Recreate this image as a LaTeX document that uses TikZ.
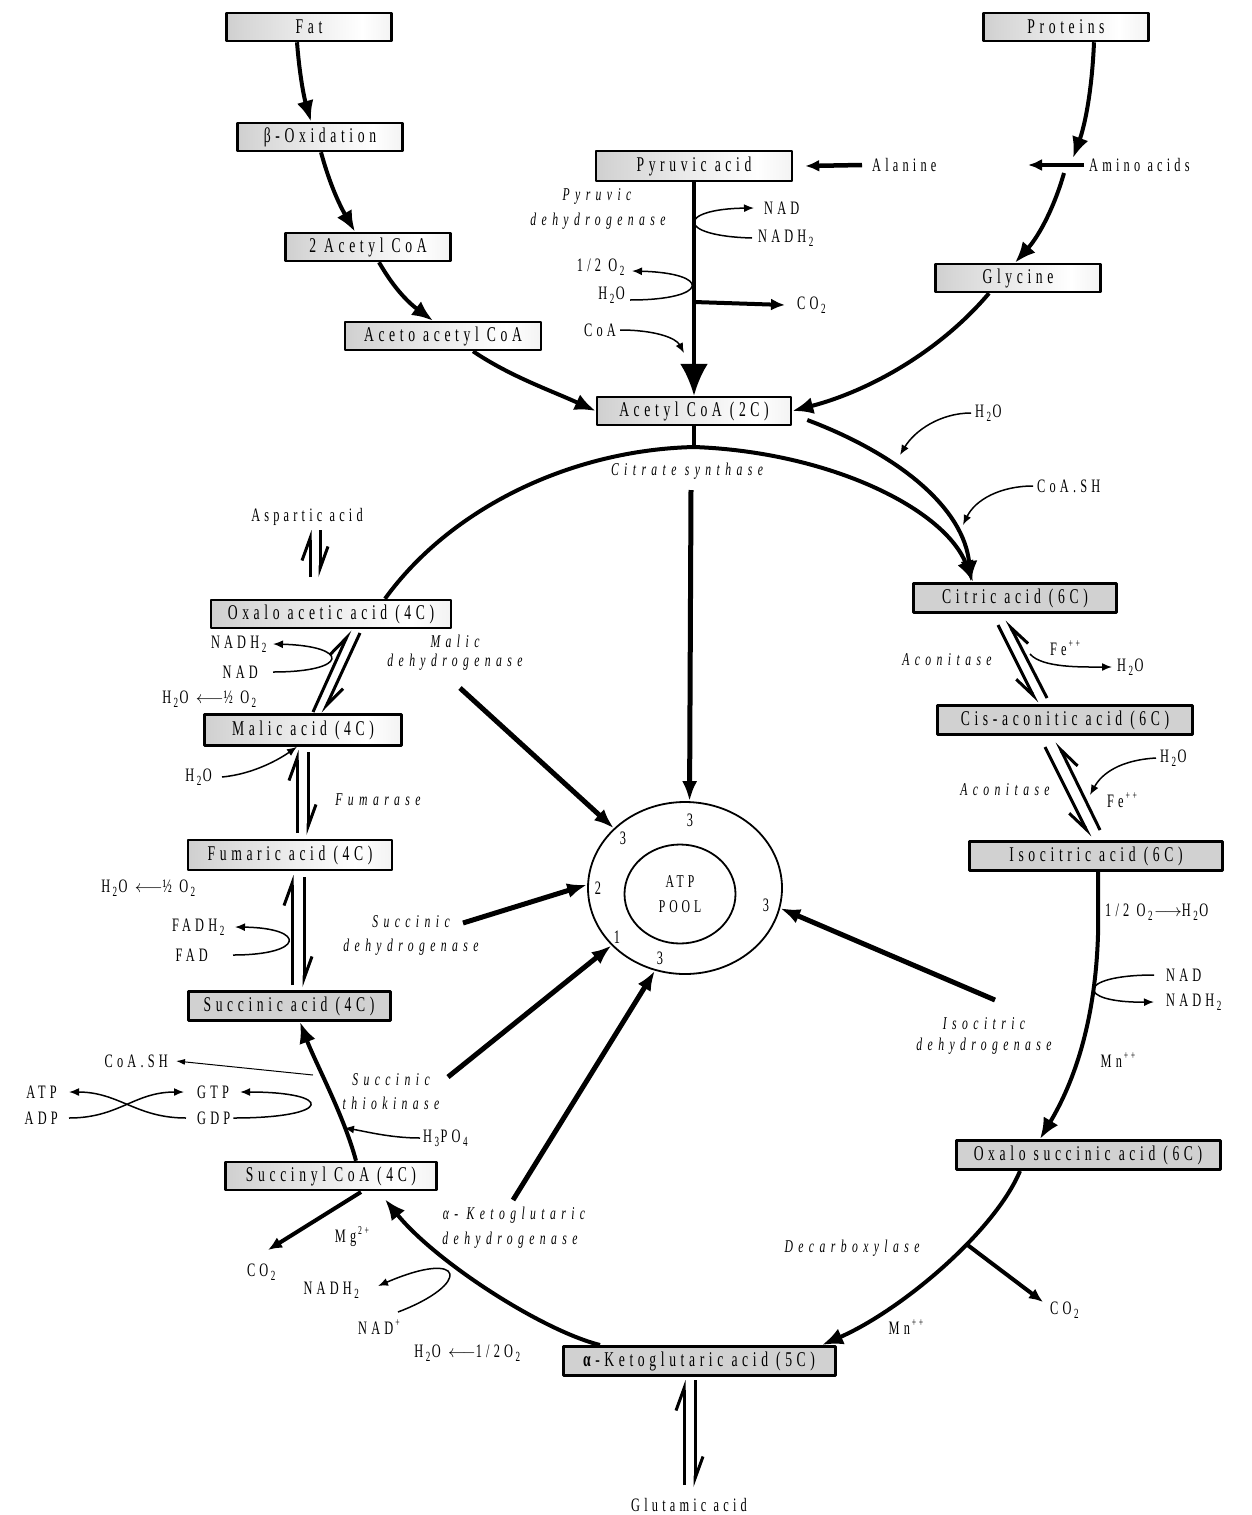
\documentclass[tikz,border=0pt]{standalone}
\usepackage{fontspec}
\setmainfont{Liberation Serif}[FakeStretch=0.65,LetterSpace=22]
\newfontfamily\itf{Liberation Serif}[FakeStretch=0.65,LetterSpace=30]
\usetikzlibrary{arrows.meta,shapes.geometric,calc}
\newcommand\sbs[1]{\kern2.5pt\raisebox{-4pt}{\fontsize{14}{14}\selectfont #1}\kern1.5pt}
\newcommand\sps[1]{\kern2pt\raisebox{8pt}{\fontsize{12}{12}\selectfont #1}}
\pgfdeclarehorizontalshading{boxshade}{100bp}{color(0bp)=(black!32); color(30bp)=(black!16); color(66bp)=(white); color(100bp)=(black!18)}
\begin{document}
\begin{tikzpicture}[x=1pt,y=-1pt,line join=round,
  gbox/.style={draw,line width=2.5pt,shading=boxshade,minimum height=28pt,inner sep=0pt,font=\fontsize{21}{23}\selectfont},
  fbox/.style={draw,line width=3pt,fill=black!18,minimum height=29pt,inner sep=0pt,font=\fontsize{21}{23}\selectfont},
  lab/.style={inner sep=0pt,font=\fontsize{19}{21}\selectfont},
  it/.style={inner sep=0pt,font=\itf\itshape\fontsize{18}{20}\selectfont},
  thk/.style={line width=4pt},
  big/.style={-{Latex[length=21pt,width=17pt]}},
  mid/.style={-{Latex[length=14pt,width=12pt]}},
  thin/.style={line width=1.5pt,-{Latex[length=10pt,width=8pt]}},
  harp/.style={line width=3pt,-{Straight Barb[harpoon,length=22pt,width=16pt]}},
  harps/.style={line width=3pt,-{Straight Barb[harpoon,swap,length=22pt,width=16pt]}},
  pa/.style={line width=5pt,-{Latex[length=20pt,width=15pt]}}]
\fill[white] (0,0) rectangle (1252,1515);
\useasboundingbox (0,0) rectangle (1252,1515);

% ---------- boxes ----------
\node[gbox,minimum width=165pt] (fat) at (309,27) {Fat};
\node[gbox,minimum width=165pt] (beta) at (320,137) {β-Oxidation};
\node[gbox,minimum width=165pt] (ac2) at (368,247) {2 Acetyl CoA};
\node[gbox,minimum width=196pt] (aceto) at (443,336) {Aceto acetyl CoA};
\node[gbox,minimum width=196pt,minimum height=30pt] (pyr) at (694,166) {Pyruvic acid};
\node[gbox,minimum width=165pt] (prot) at (1066,27) {Proteins};
\node[gbox,minimum width=165pt] (gly) at (1018,278) {Glycine};
\node[gbox,minimum width=194pt] (acoa) at (694,411) {Acetyl CoA (2C)};
\node[fbox,minimum width=203pt] (cit) at (1015,598) {Citric acid (6C)};
\node[fbox,minimum width=255pt] (cis) at (1065,720) {Cis-aconitic acid (6C)};
\node[fbox,minimum width=253pt] (iso) at (1096,856) {Isocitric acid (6C)};
\node[fbox,minimum width=264pt] (oxs) at (1088,1155) {Oxalo succinic acid (6C)};
\node[fbox,minimum width=272pt] (akg) at (699,1361) {\textbf{α}-Ketoglutaric acid (5C)};
\node[gbox,minimum width=211pt] (sca) at (331,1176) {Succinyl CoA (4C)};
\node[fbox,minimum width=202pt] (suc) at (289,1006) {Succinic acid (4C)};
\node[gbox,minimum width=204pt,minimum height=30pt] (fum) at (290,855) {Fumaric acid (4C)};
\node[gbox,minimum width=197pt,minimum height=31pt] (mal) at (303,730) {Malic acid (4C)};
\node[gbox,minimum width=240pt] (oaa) at (331,614) {Oxalo acetic acid (4C)};

% ---------- ATP pool ----------
\node[draw,ellipse,line width=1.8pt,minimum width=194pt,minimum height=172pt,inner sep=0pt] (pool) at (685,888) {};
\node[draw,ellipse,line width=1.8pt,minimum width=111pt,minimum height=99pt,inner sep=0pt,align=center,font=\fontsize{18}{25}\selectfont] (inner) at (680,894) {ATP\\POOL};
\node[lab] (n1) at (690,820) {3};
\node[lab] (n2) at (623,838) {3};
\node[lab] (n3) at (598,888) {2};
\node[lab] (n4) at (617,937) {1};
\node[lab] (n5) at (660,958) {3};
\node[lab] (n6) at (766,905) {3};

% ---------- labels ----------
\node[lab,anchor=west] (ala) at (872,165) {Alanine};
\node[lab,anchor=west] (amino) at (1089,165) {Amino acids};
\node[it] (pdh1) at (597,196) {Pyruvic};
\node[it] (pdh2) at (598,221) {dehydrogenase};
\node[lab,anchor=west] (nad1) at (764,208) {NAD};
\node[lab,anchor=west] (nadh1) at (758,238) {NADH\sbs{2}};
\node[lab,anchor=east] (half1) at (626,267) {1/2 O\sbs{2}};
\node[lab,anchor=east] (h2oa) at (625,295) {H\sbs{2}O};
\node[lab,anchor=west] (co2a) at (797,305) {CO\sbs{2}};
\node[lab,anchor=east] (coa1) at (616,330) {CoA};
\node[lab,anchor=west] (h2ob) at (975,413) {H\sbs{2}O};
\node[it] (cs) at (687,471) {Citrate synthase};
\node[lab,anchor=west] (coash1) at (1037,486) {CoA.SH};
\node[lab] (asp) at (307,517) {Aspartic acid};
\node[it] (mdh1) at (455,641) {Malic};
\node[it] (mdh2) at (455,662) {dehydrogenase};
\node[lab,anchor=east] (nadh3) at (268,644) {NADH\sbs{2}};
\node[lab,anchor=east] (nad3) at (258,672) {NAD};
\node[lab] (ox2) at (210,699) {H\sbs{2}O $\longleftarrow$½ O\sbs{2}};
\node[it] (aco1) at (947,660) {Aconitase};
\node[lab] (fe1) at (1065,648) {Fe\sps{++}};
\node[lab,anchor=west] (h2oc) at (1117,667) {H\sbs{2}O};
\node[lab,anchor=west] (h2od) at (1160,758) {H\sbs{2}O};
\node[it] (aco2) at (1005,790) {Aconitase};
\node[lab] (fe2) at (1122,800) {Fe\sps{++}};
\node[lab,anchor=east] (h2oe) at (212,777) {H\sbs{2}O};
\node[it] (fuma) at (378,800) {Fumarase};
\node[lab] (ox3) at (149,888) {H\sbs{2}O $\longleftarrow$½ O\sbs{2}};
\node[lab,anchor=east] (fadh) at (226,927) {FADH\sbs{2}};
\node[lab,anchor=east] (fad) at (208,955) {FAD};
\node[it] (sdh1) at (411,922) {Succinic};
\node[it] (sdh2) at (411,947) {dehydrogenase};
\node[lab,anchor=west] (ox1) at (1105,912) {1/2 O\sbs{2}$\longrightarrow$H\sbs{2}O};
\node[lab,anchor=west] (nad2) at (1166,975) {NAD};
\node[lab,anchor=west] (nadh2) at (1166,1002) {NADH\sbs{2}};
\node[it] (idh1) at (984,1024) {Isocitric};
\node[it] (idh2) at (984,1046) {dehydrogenase};
\node[lab] (mn1) at (1118,1060) {Mn\sps{++}};
\node[lab,anchor=east] (coash2) at (168,1061) {CoA.SH};
\node[lab,anchor=east] (atp) at (57,1092) {ATP};
\node[lab,anchor=east] (adp) at (58,1118) {ADP};
\node[lab,anchor=west] (gtp) at (197,1092) {GTP};
\node[lab,anchor=west] (gdp) at (197,1118) {GDP};
\node[it] (stk1) at (391,1080) {Succinic};
\node[it] (stk2) at (391,1103) {thiokinase};
\node[lab,anchor=west] (h3po4) at (423,1138) {H\sbs{3}PO\sbs{4}};
\node[it] (kdh1) at (514,1215) {α- Ketoglutaric};
\node[it] (kdh2) at (510,1240) {dehydrogenase};
\node[lab] (mg) at (352,1237) {Mg\sps{2+}};
\node[lab] (co2c) at (262,1272) {CO\sbs{2}};
\node[lab] (nadh4) at (332,1290) {NADH\sbs{2}};
\node[lab] (nad4) at (379,1327) {NAD\sps{+}};
\node[lab] (ox4) at (468,1353) {H\sbs{2}O $\longleftarrow$1/2O\sbs{2}};
\node[it] (dcx) at (852,1248) {Decarboxylase};
\node[lab,anchor=west] (co2b) at (1050,1310) {CO\sbs{2}};
\node[lab] (mn2) at (906,1327) {Mn\sps{++}};
\node[lab] (glu) at (689,1505) {Glutamic acid};

% ---------- free-end coordinates ----------
\coordinate (am1) at (1073,158);
\coordinate (am2) at (1064,173);
\coordinate (amx) at (1028,165);
\coordinate (pco) at (694,302);
\coordinate (coaend) at (684,353);
\coordinate (h2obe) at (900,455);
\coordinate (coashe) at (963,525);
\coordinate (ctop) at (694,447);
\coordinate (csl) at (691,490);
\coordinate (mdhs) at (460,688);
\coordinate (sdhs) at (463,923);
\coordinate (stks) at (448,1077);
\coordinate (kdhs) at (513,1200);
\coordinate (idhs) at (995,1000);
\coordinate (iso2) at (1098,935);
\coordinate (fes1) at (1030,654);
\coordinate (h2ode) at (1090,795);
\coordinate (coasr) at (313,1075);
\coordinate (h3e) at (344,1128);
\coordinate (scs) at (361,1192);
\coordinate (co2ce) at (268,1250);
\coordinate (nads) at (398,1312);
\coordinate (nade) at (378,1286);
\coordinate (co2be) at (1043,1302);

% ---------- feeder pathways ----------
\draw[thk,big] ([xshift=-12pt]fat.south) .. controls +(3,38) and +(-6,-21) .. ([xshift=-9pt]beta.north);
\draw[thk,big] ([xshift=1pt]beta.south) .. controls +(9,33) and +(-15,-26) .. ([xshift=-13pt]ac2.north);
\draw[thk,big] ([xshift=11pt]ac2.south) .. controls +(16,28) and +(-23,-17) .. ([xshift=-10pt]aceto.north);
\draw[thk,big] ([xshift=30pt]aceto.south) .. controls +(37,25) and +(-46,-21) .. (acoa.west);
\draw[thk,big] ([xshift=28pt]prot.south) .. controls +(-2,48) and +(12,-33) .. (am1);
\draw[thk,big] (am2) .. controls +(-9,32) and +(25,-28) .. ([xshift=-3pt]gly.north);
\draw[thk,big] ([xshift=-29pt]gly.south) .. controls +(-49,58) and +(77,-20) .. (acoa.east);
\draw[line width=4.5pt,mid] ([xshift=-5pt]amino.west) -- (amx);
\draw[line width=4.5pt,mid] ([xshift=-10pt]ala.west) -- ([xshift=12pt]pyr.east);
\draw[line width=4pt,-{Latex[length=32pt,width=28pt]}] (pyr.south) -- (acoa.north);
\draw[line width=4pt,mid] (pco) -- ([xshift=-12pt]co2a.west);
\draw[thin] ([xshift=-6pt]nadh1.west) .. controls +(-77,-2) and +(-77,1) .. ([xshift=-10pt]nad1.west);
\draw[thin] ([xshift=5pt,yshift=-5pt]h2oa.east) .. controls +(80,0) and +(80,2) .. ([xshift=6pt,yshift=-4pt]half1.east);
\draw[thin] ([xshift=4pt]coa1.east) .. controls +(35,0) and +(-8,-15) .. (coaend);

% ---------- cycle ----------
\draw[thk] (acoa.south) -- (ctop);
\draw[thk,big] ([xshift=54pt]oaa.north) .. controls +(65,-90) and +(-124,3) .. (ctop) .. controls +(136,5) and +(-28,-73) .. ([xshift=-42pt]cit.north);
\draw[thk,big] ([xshift=15pt,yshift=-9pt]acoa.east) .. controls +(93,35) and +(-7,-73) .. ([xshift=-44pt]cit.north);
\draw[thin] ([xshift=-4pt]h2ob.west) .. controls +(-30,0) and +(15,-25) .. (h2obe);
\draw[thin] ([xshift=-4pt]coash1.west) .. controls +(-33,0) and +(12,-25) .. (coashe);

\draw[harps] (998,625) -- (1037,703);
\draw[harps] (1047,698) -- (1007,620);
\draw[thin] (fes1) .. controls +(12,14) and +(-30,0) .. ([xshift=-5pt]h2oc.west);
\draw[harps] (1045,747) -- (1090,837);
\draw[harps] (1100,830) -- (1057,742);
\draw[thin] ([xshift=-4pt]h2od.west) .. controls +(-35,2) and +(12,-22) .. (h2ode);

\draw[thk,big] ([xshift=2pt]iso.south) -- (iso2) .. controls +(-3,95) and +(30,-50) .. ([xshift=-48pt]oxs.north);
\draw[thin] ([xshift=-12pt]nad2.west) .. controls +(-79,0) and +(-79,1) .. ([xshift=-12pt]nadh2.west);
\draw[thk,big] ([xshift=-68pt]oxs.south) .. controls +(-25,60) and +(80,-35) .. coordinate[pos=0.38] (dec) ([xshift=123pt]akg.north);
\draw[line width=4pt,mid] (dec) -- (co2be);

\draw[harp] (684,1485) -- (684,1380);
\draw[harp] (695,1380) -- (695,1487);

\draw[thk,big] ([xshift=-99pt]akg.north) .. controls +(-59,-15) and +(50,62) .. ([xshift=54pt,yshift=-8pt]sca.south);
\draw[thin] (nads) .. controls (472,1284) and (466,1248) .. (nade);
\draw[line width=4pt,mid] (scs) -- (co2ce);

\draw[thk,big] ([xshift=25pt]sca.north) .. controls +(-12,-45) and +(15,40) .. ([xshift=11pt]suc.south);
\draw[line width=1pt,-{Latex[length=9pt,width=6pt]}] (coasr) -- ([xshift=8pt]coash2.east);
\draw[thin] ([xshift=3pt]gdp.east) .. controls +(100,0) and +(95,0) .. ([xshift=11pt]gtp.east);
\draw[thin] ([xshift=11pt]adp.east) .. controls +(50,0) and +(-50,0) .. ([xshift=-13pt]gtp.west);
\draw[thin] ([xshift=-11pt]gdp.west) .. controls +(-50,0) and +(50,0) .. ([xshift=12pt]atp.east);
\draw[thin] ([xshift=-3pt]h3po4.west) .. controls +(-30,0) and +(20,3) .. (h3e);

\draw[harp] (292,985) -- (292,875);
\draw[harp] (304,877) -- (304,987);
\draw[thin] ([xshift=25pt]fad.east) .. controls +(72,0) and +(72,1) .. ([xshift=9pt]fadh.east);

\draw[harp] (297,833) -- (297,750);
\draw[harp] (308,752) -- (308,835);
\draw[thin] ([xshift=10pt]h2oe.east) .. controls +(32,-3) and +(-17,12) .. ([xshift=-6pt]mal.south);

\draw[harp] (313,712) -- (350,630);
\draw[harp] (360,633) -- (323,713);
\draw[thin] ([xshift=15pt]nad3.east) .. controls +(77,0) and +(77,2) .. ([xshift=5pt]nadh3.east);

\draw[harp] (310,577) -- (310,530);
\draw[harp] (320,530) -- (320,577);

% ---------- arrows into the ATP pool ----------
\draw[pa] (csl) -- (pool.87);
\draw[pa] (mdhs) -- (pool.140);
\draw[pa] (sdhs) -- (pool.178);
\draw[pa] (stks) -- (pool.218);
\draw[pa] (kdhs) -- (pool.250);
\draw[pa] (idhs) -- (pool.348);
\end{tikzpicture}
\end{document}
